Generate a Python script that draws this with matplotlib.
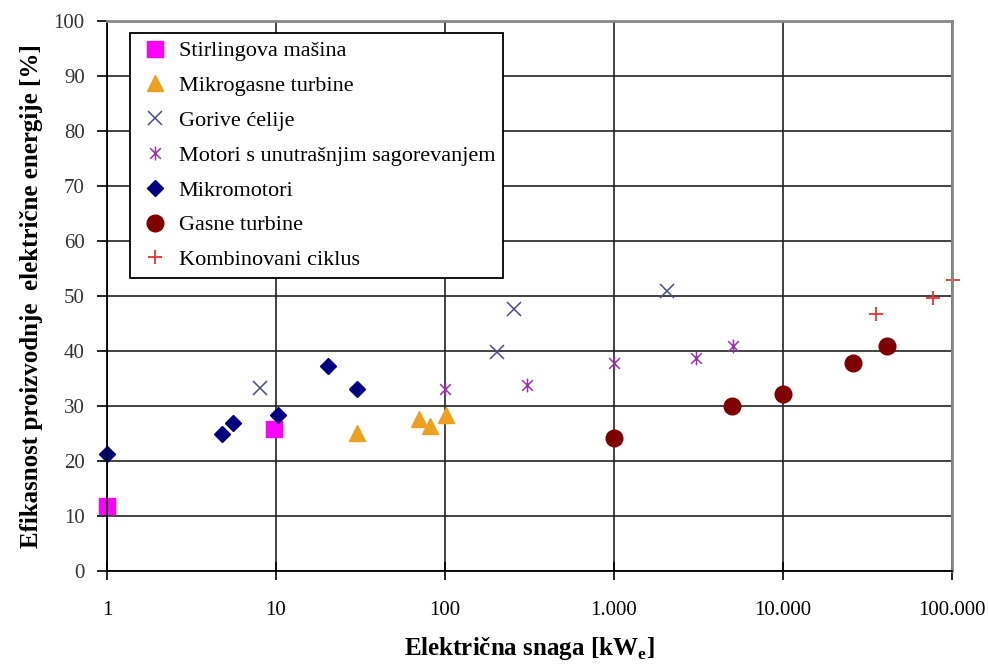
import numpy as np
import matplotlib.pyplot as plt
from matplotlib.path import Path
from matplotlib.ticker import FixedLocator, NullLocator, FixedFormatter

plt.rcParams['font.family'] = ['Liberation Serif', 'DejaVu Serif']

# data (snaga u kWe, efikasnost u %)
stirling_x = [1, 9.7]
stirling_y = [11.8, 25.8]

mikrogas_x = [30, 70, 81, 102]
mikrogas_y = [25.1, 27.6, 26.4, 28.4]

gorive_x = [8, 203, 256, 2050]
gorive_y = [33.3, 39.8, 47.6, 51.0]

motori_x = [100, 305, 1000, 3050, 5050]
motori_y = [33.1, 33.8, 37.8, 38.7, 40.9]

mikromot_x = [1, 4.8, 5.6, 10.3, 20.3, 30]
mikromot_y = [21.3, 24.9, 26.9, 28.4, 37.3, 33.1]

gasne_x = [1000, 5000, 10000, 25800, 41000]
gasne_y = [24.2, 30.0, 32.2, 37.8, 40.9]

komb_x = [35500, 77000, 102000]
komb_y = [46.7, 49.6, 52.9]

x_ticks = [1, 10, 100, 1000, 10000, 100000]
x_labels = ['1', '10', '100', '1.000', '10.000', '100.000']

# excel-like star marker (x plus vertical bar)
star = Path([(-1, -1), (1, 1), (-1, 1), (1, -1), (0, -1.3), (0, 1.3)],
            [Path.MOVETO, Path.LINETO] * 3)

fig = plt.figure(figsize=(9.88, 6.66), dpi=100)
ax = fig.add_axes([0.1083, 0.1426, 0.8553, 0.8259])

kw = dict(ls='none', clip_on=False)
ax.plot(stirling_x, stirling_y, marker='s', ms=12, color='#ff00ff',
        label='Stirlingova mašina', **kw)
ax.plot(mikrogas_x, mikrogas_y, marker='^', ms=11, color='#f0a020',
        label='Mikrogasne turbine', **kw)
ax.plot(gorive_x, gorive_y, marker='x', ms=10, mew=1.1, color='#4a4a90',
        label='Gorive ćelije', **kw)
ax.plot(motori_x, motori_y, marker=star, ms=10, mew=1.1, color='#9933aa',
        mfc='none', label='Motori s unutrašnjim sagorevanjem', **kw)
ax.plot(mikromot_x, mikromot_y, marker='D', ms=8.5, color='#000080',
        label='Mikromotori', **kw)
ax.plot(gasne_x, gasne_y, marker='o', ms=12, color='#800000',
        label='Gasne turbine', **kw)
ax.plot(komb_x, komb_y, marker='+', ms=10, mew=1.3, color='#ee3030',
        label='Kombinovani ciklus', **kw)

ax.set_xscale('log')
ax.set_xlim(1, 100000)
ax.set_ylim(0, 100)
ax.xaxis.set_major_locator(FixedLocator(x_ticks))
ax.xaxis.set_minor_locator(NullLocator())
ax.xaxis.set_major_formatter(FixedFormatter(x_labels))
ax.set_yticks(np.arange(0, 101, 10))

ax.grid(True, color='#222222', lw=1.2)
ax.set_axisbelow(True)
for s in ['left', 'bottom']:
    ax.spines[s].set_color('black')
    ax.spines[s].set_linewidth(1.3)
for s in ['top', 'right']:
    ax.spines[s].set_color('#888888')
    ax.spines[s].set_linewidth(2)

ax.tick_params(axis='x', direction='inout', length=13, width=1.2, pad=15, labelsize=15, colors='black')
ax.tick_params(axis='y', direction='out', length=7, width=1.2, pad=9, labelsize=15)
for t in ax.get_yticklabels():
    t.set_color('#333333')

ax.set_xlabel('Električna snaga [kW$_\\mathregular{e}$]', fontsize=18, fontweight='bold', labelpad=11)
ax.set_ylabel('Efikasnost proizvodnje  električne energije [%]', fontsize=18,
              fontweight='bold', labelpad=8)

leg = ax.legend(loc='upper left', bbox_to_anchor=(0.027, 0.978), fontsize=16,
                fancybox=False, framealpha=1, edgecolor='black', borderpad=0.35,
                labelspacing=0.64, handletextpad=0.25, handlelength=1.6,
                borderaxespad=0)
leg.get_frame().set_linewidth(1.3)

fig.savefig('out.png', dpi=100)
